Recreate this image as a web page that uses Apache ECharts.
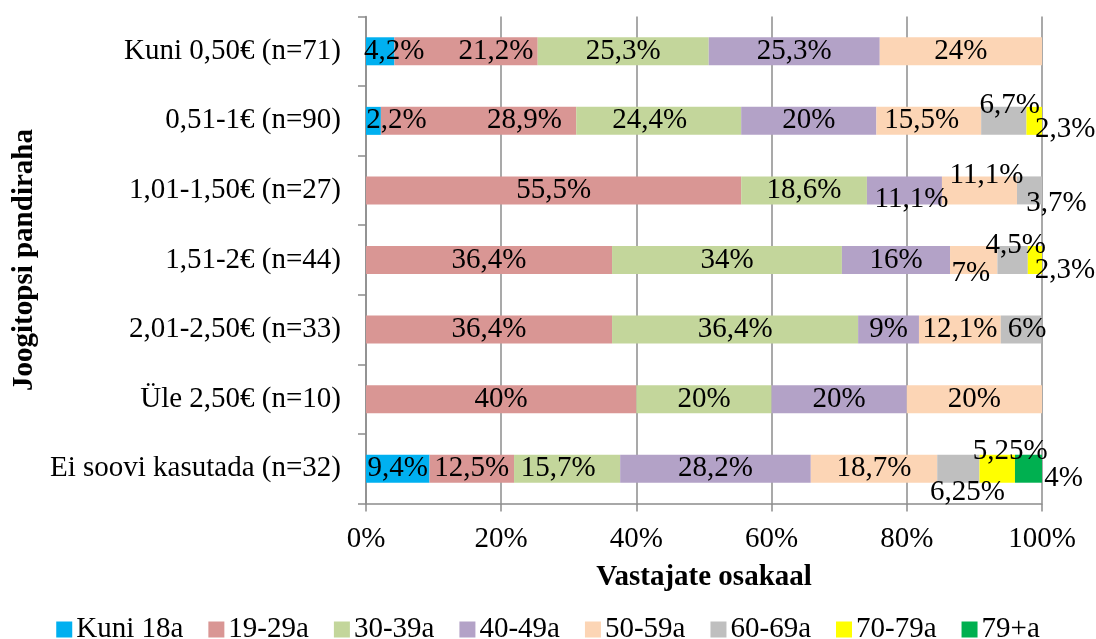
<!DOCTYPE html>
<html>
<head>
<meta charset="utf-8">
<script src="https://cdn.jsdelivr.net/npm/echarts@6/dist/echarts.min.js"></script>
<style>
  html, body { margin: 0; padding: 0; background: #fff; }
  #d { width: 1096px; height: 639px; }
</style>
</head>
<body>
<div id="d"></div>
<script>
var categories = ['Kuni 0,50€ (n=71)', '0,51-1€ (n=90)', '1,01-1,50€ (n=27)', '1,51-2€ (n=44)',
  '2,01-2,50€ (n=33)', 'Üle 2,50€ (n=10)', 'Ei soovi kasutada (n=32)'];
var seriesNames = ['Kuni 18a', '19-29a', '30-39a', '40-49a', '50-59a', '60-69a', '70-79a', '79+a'];
var kuni18 = [4.2, 2.2, 0, 0, 0, 0, 9.4];
var a19_29 = [21.2, 28.9, 55.5, 36.4, 36.4, 40, 12.5];
var a30_39 = [25.3, 24.4, 18.6, 34, 36.4, 20, 15.7];
var a40_49 = [25.3, 20, 11.1, 16, 9, 20, 28.2];
var a50_59 = [24, 15.5, 11.1, 7, 12.1, 20, 18.7];
var a60_69 = [0, 6.7, 3.7, 4.5, 6, 0, 6.25];
var a70_79 = [0, 2.3, 0, 2.3, 0, 0, 5.25];
var a79pluss = [0, 0, 0, 0, 0, 0, 4];
var xTicks = [0, 20, 40, 60, 80, 100];

var colors = ['#00B0F0', '#D99694', '#C3D69B', '#B3A2C7', '#FCD5B5', '#BFBFBF', '#FFFF00', '#00B050'];
var font = 'Liberation Serif';
var gridCol = '#8C8C8C';
var fs = 29;

// labelite nihutamine (seeria-kategooria): [dx, dy]
var labelMoves = {
  '0-0': [14, 0], '1-0': [30, 0],
  '0-1': [23, 0], '1-1': [46, 0], '2-1': [-9, 0], '4-1': [-7, 0], '5-1': [6, -15], '6-1': [31, 9],
  '3-2': [7, 8.5], '4-2': [7, -15.5], '5-2': [27, 12.5],
  '4-3': [-3, 13], '5-3': [3, -15], '6-3': [30, 10],
  '5-4': [6, 0],
  '2-6': [-9, 0], '5-6': [9, 23.5], '6-6': [13, -17], '7-6': [35, 9.5]
};

var all = [kuni18, a19_29, a30_39, a40_49, a50_59, a60_69, a70_79, a79pluss];

var myChart = echarts.init(document.getElementById('d'));
var option = {
  animation: false,
  textStyle: { fontFamily: font, color: '#000' },
  color: colors,
  grid: { left: 366, right: 54, top: 16.5, bottom: 135.5, containLabel: false },
  legend: {
    data: seriesNames,
    left: 'center',
    top: 610,
    icon: 'rect',
    itemWidth: 16,
    itemHeight: 16,
    itemGap: 25,
    textStyle: { fontFamily: font, fontSize: 29, color: '#000', padding: [0, 0, 0, -1] }
  },
  xAxis: {
    type: 'value',
    min: xTicks[0],
    max: xTicks[xTicks.length - 1],
    interval: xTicks[1] - xTicks[0],
    name: 'Vastajate osakaal',
    nameLocation: 'middle',
    nameGap: 60,
    nameTextStyle: { fontFamily: font, fontSize: 29, fontWeight: 'bold', color: '#000' },
    axisLine: { show: true, lineStyle: { color: gridCol, width: 1.5 } },
    axisTick: { show: true, length: 8, lineStyle: { color: gridCol, width: 1.5 } },
    axisLabel: { formatter: '{value}%', fontFamily: font, fontSize: fs, color: '#000', margin: 21 },
    splitLine: { show: true, lineStyle: { color: gridCol, width: 1.5 } }
  },
  yAxis: {
    type: 'category',
    inverse: true,
    data: categories,
    name: 'Joogitopsi pandiraha',
    nameLocation: 'middle',
    nameGap: 327,
    nameTextStyle: { fontFamily: font, fontSize: 29, fontWeight: 'bold', color: '#000' },
    axisLine: { show: true, lineStyle: { color: gridCol, width: 1.5 } },
    axisTick: { show: true, length: 8, lineStyle: { color: gridCol, width: 1.5 } },
    axisLabel: { fontFamily: font, fontSize: fs, color: '#000', margin: 25 }
  },
  series: []
};

for (var s = 0; s < all.length; s++) {
  var items = [];
  for (var c = 0; c < categories.length; c++) {
    var v = all[s][c];
    var it = { value: v === 0 ? '-' : v };
    var mv = labelMoves[s + '-' + c];
    if (mv) it.label = { offset: mv };
    items.push(it);
  }
  option.series.push({
    name: seriesNames[s],
    type: 'bar',
    stack: 'kokku',
    barWidth: 28,
    data: items,
    label: {
      show: true,
      position: 'inside',
      fontFamily: font,
      fontSize: fs,
      color: '#000',
      formatter: function (p) { return String(p.value).replace('.', ',') + '%'; }
    }
  });
}

option && myChart.setOption(option);
</script>
</body>
</html>
